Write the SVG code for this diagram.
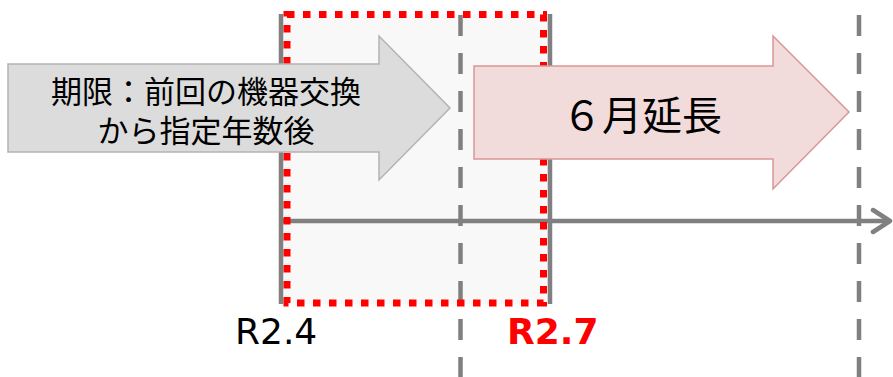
<svg xmlns="http://www.w3.org/2000/svg" width="893" height="377" viewBox="0 0 893 377">
<style>
.solid{stroke:#808080;stroke-width:4.5;fill:none}
.dash{stroke:#808080;stroke-width:4.5;fill:none;stroke-dasharray:21 17}
.dots{stroke:#ff0000;stroke-width:7;fill:none;stroke-dasharray:7.5 8.5}
.jp{font-family:"Noto Sans CJK JP","Noto Sans CJK SC",sans-serif;fill:#000;text-anchor:middle}
.lbl{font-family:"DejaVu Sans",sans-serif;font-size:36px}
</style>
<rect width="893" height="377" fill="#ffffff"/>
<g id="period">
<rect x="281" y="14" width="269" height="290" fill="#f8f8f8"/>
</g>
<g id="connectors">
<line class="solid" x1="281" y1="14" x2="281" y2="304"/>
<line class="solid" x1="550" y1="14" x2="550" y2="304"/>
<line class="dash" x1="460.5" y1="15" x2="460.5" y2="377"/>
<line class="dash" x1="859" y1="15" x2="859" y2="377"/>
<line class="solid" x1="281" y1="221" x2="890" y2="221"/>
<polyline class="solid" points="873,210 890,221 873,232" stroke-linecap="round" stroke-linejoin="round"/>
</g>
<g id="highlight">
<rect class="dots" x="287" y="14.5" width="256.5" height="288.5"/>
</g>
<g id="arrow-gray">
<polygon points="8,64 379,64 379,36 450,108 379,180 379,152 8,152" fill="#dcdcdc" stroke="#b3b3b3" stroke-width="1.5"/>
<text class="jp" font-size="31"><tspan x="206" y="103">期限：前回の機器交換</tspan><tspan x="206" y="142">から指定年数後</tspan></text>
</g>
<g id="arrow-pink">
<polygon points="474,66 773,66 773,36 849,112 773,189 773,159 474,159" fill="#f2dcdb" stroke="#d99694" stroke-width="1.5"/>
<text class="jp" x="642" y="130" font-size="40">６月延長</text>
</g>
<g id="labels">
<text class="lbl" x="235" y="344" fill="#000">R2.4</text>
<text class="lbl" x="507" y="344" fill="#ff0000" font-weight="bold">R2.7</text>
</g>
</svg>
